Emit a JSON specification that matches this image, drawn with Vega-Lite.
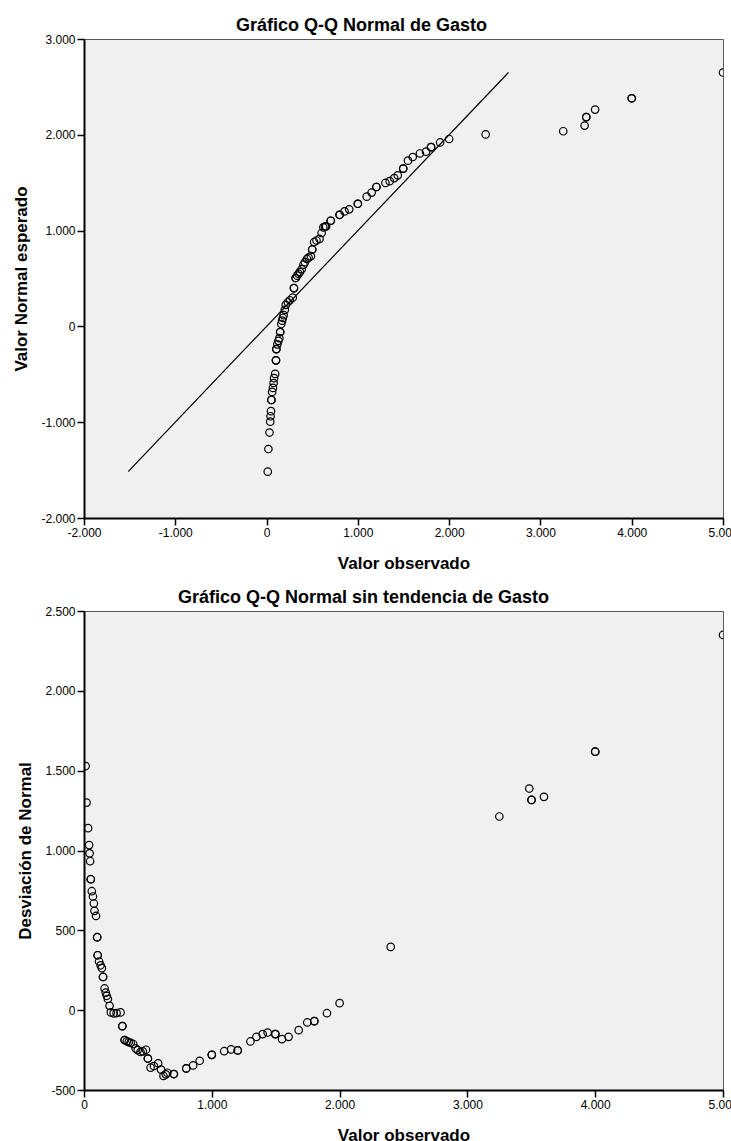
{
  "$schema": "https://vega.github.io/schema/vega-lite/v6.json",
  "padding": {"left": 12, "top": 16, "right": 0, "bottom": 0},
  "spacing": 16,
  "background": "#ffffff",
  "datasets": {
    "pts": [
      {"obs": 13, "esperado": -1516, "desviacion": 1529},
      {"obs": 20, "esperado": -1280, "desviacion": 1300},
      {"obs": 32, "esperado": -1108, "desviacion": 1140},
      {"obs": 40, "esperado": -994, "desviacion": 1034},
      {"obs": 44, "esperado": -938, "desviacion": 982},
      {"obs": 48, "esperado": -885, "desviacion": 933},
      {"obs": 53, "esperado": -767, "desviacion": 820},
      {"obs": 53, "esperado": -767, "desviacion": 820},
      {"obs": 61, "esperado": -684, "desviacion": 745},
      {"obs": 70, "esperado": -642, "desviacion": 712},
      {"obs": 77, "esperado": -591, "desviacion": 668},
      {"obs": 82, "esperado": -540, "desviacion": 622},
      {"obs": 94, "esperado": -496, "desviacion": 590},
      {"obs": 103, "esperado": -354, "desviacion": 457},
      {"obs": 103, "esperado": -354, "desviacion": 457},
      {"obs": 107, "esperado": -237, "desviacion": 344},
      {"obs": 107, "esperado": -237, "desviacion": 344},
      {"obs": 118, "esperado": -187, "desviacion": 305},
      {"obs": 130, "esperado": -151, "desviacion": 281},
      {"obs": 140, "esperado": -123, "desviacion": 263},
      {"obs": 149, "esperado": -59, "desviacion": 208},
      {"obs": 149, "esperado": -59, "desviacion": 208},
      {"obs": 161, "esperado": 25, "desviacion": 136},
      {"obs": 170, "esperado": 60, "desviacion": 110},
      {"obs": 178, "esperado": 88, "desviacion": 90},
      {"obs": 187, "esperado": 117, "desviacion": 70},
      {"obs": 200, "esperado": 173, "desviacion": 27},
      {"obs": 210, "esperado": 224, "desviacion": -14},
      {"obs": 232, "esperado": 252, "desviacion": -20},
      {"obs": 255, "esperado": 273, "desviacion": -18},
      {"obs": 286, "esperado": 300, "desviacion": -14},
      {"obs": 300, "esperado": 400, "desviacion": -100},
      {"obs": 300, "esperado": 400, "desviacion": -100},
      {"obs": 318, "esperado": 505, "desviacion": -187},
      {"obs": 318, "esperado": 505, "desviacion": -187},
      {"obs": 335, "esperado": 530, "desviacion": -195},
      {"obs": 350, "esperado": 550, "desviacion": -200},
      {"obs": 365, "esperado": 569, "desviacion": -204},
      {"obs": 385, "esperado": 597, "desviacion": -212},
      {"obs": 404, "esperado": 644, "desviacion": -240},
      {"obs": 420, "esperado": 670, "desviacion": -250},
      {"obs": 442, "esperado": 704, "desviacion": -262},
      {"obs": 460, "esperado": 718, "desviacion": -258},
      {"obs": 485, "esperado": 733, "desviacion": -248},
      {"obs": 500, "esperado": 803, "desviacion": -303},
      {"obs": 500, "esperado": 803, "desviacion": -303},
      {"obs": 521, "esperado": 881, "desviacion": -360},
      {"obs": 547, "esperado": 897, "desviacion": -350},
      {"obs": 580, "esperado": 913, "desviacion": -333},
      {"obs": 603, "esperado": 975, "desviacion": -372},
      {"obs": 622, "esperado": 1034, "desviacion": -412},
      {"obs": 640, "esperado": 1042, "desviacion": -402},
      {"obs": 652, "esperado": 1044, "desviacion": -392},
      {"obs": 703, "esperado": 1103, "desviacion": -400},
      {"obs": 703, "esperado": 1103, "desviacion": -400},
      {"obs": 800, "esperado": 1165, "desviacion": -365},
      {"obs": 800, "esperado": 1165, "desviacion": -365},
      {"obs": 854, "esperado": 1200, "desviacion": -346},
      {"obs": 905, "esperado": 1222, "desviacion": -317},
      {"obs": 1000, "esperado": 1280, "desviacion": -280},
      {"obs": 1000, "esperado": 1280, "desviacion": -280},
      {"obs": 1097, "esperado": 1354, "desviacion": -257},
      {"obs": 1151, "esperado": 1397, "desviacion": -246},
      {"obs": 1203, "esperado": 1455, "desviacion": -252},
      {"obs": 1203, "esperado": 1455, "desviacion": -252},
      {"obs": 1302, "esperado": 1498, "desviacion": -196},
      {"obs": 1349, "esperado": 1516, "desviacion": -167},
      {"obs": 1398, "esperado": 1548, "desviacion": -150},
      {"obs": 1437, "esperado": 1577, "desviacion": -140},
      {"obs": 1497, "esperado": 1647, "desviacion": -150},
      {"obs": 1497, "esperado": 1647, "desviacion": -150},
      {"obs": 1549, "esperado": 1730, "desviacion": -181},
      {"obs": 1601, "esperado": 1768, "desviacion": -167},
      {"obs": 1680, "esperado": 1805, "desviacion": -125},
      {"obs": 1747, "esperado": 1824, "desviacion": -77},
      {"obs": 1802, "esperado": 1871, "desviacion": -69},
      {"obs": 1802, "esperado": 1871, "desviacion": -69},
      {"obs": 1901, "esperado": 1920, "desviacion": -19},
      {"obs": 2000, "esperado": 1956, "desviacion": 44},
      {"obs": 2400, "esperado": 2004, "desviacion": 396},
      {"obs": 3250, "esperado": 2037, "desviacion": 1213},
      {"obs": 3484, "esperado": 2096, "desviacion": 1388},
      {"obs": 3502, "esperado": 2185, "desviacion": 1317},
      {"obs": 3502, "esperado": 2185, "desviacion": 1317},
      {"obs": 3599, "esperado": 2263, "desviacion": 1336},
      {"obs": 4000, "esperado": 2381, "desviacion": 1619},
      {"obs": 4000, "esperado": 2381, "desviacion": 1619},
      {"obs": 5000, "esperado": 2650, "desviacion": 2350}
    ],
    "ref": [
      {"obs": -1516, "esperado": -1516},
      {"obs": 2650, "esperado": 2650}
    ]
  },
  "vconcat": [
    {
      "width": 639,
      "height": 479,
      "title": {"text": "Gráfico Q-Q Normal de Gasto", "anchor": "middle", "dx": -42, "offset": -2},
      "layer": [
        {
          "data": {"name": "ref"},
          "mark": {"type": "line", "color": "#000000", "strokeWidth": 1.2, "clip": true},
          "encoding": {
            "x": {"field": "obs", "type": "quantitative"},
            "y": {"field": "esperado", "type": "quantitative"}
          }
        },
        {
          "data": {"name": "pts"},
          "mark": {"type": "point", "shape": "circle", "filled": false, "color": "#000000", "size": 56, "strokeWidth": 1.2, "opacity": 1, "clip": true},
          "encoding": {
            "x": {
              "field": "obs", "type": "quantitative",
              "scale": {"domain": [-2000, 5000], "nice": false, "zero": false},
              "axis": {"title": "Valor observado", "values": [-2000, -1000, 0, 1000, 2000, 3000, 4000, 5000], "titlePadding": 17}
            },
            "y": {
              "field": "esperado", "type": "quantitative",
              "scale": {"domain": [-2000, 3000], "nice": false, "zero": false},
              "axis": {"title": "Valor Normal esperado", "values": [-2000, -1000, 0, 1000, 2000, 3000], "titlePadding": 10}
            }
          }
        }
      ]
    },
    {
      "width": 639,
      "height": 479,
      "title": {"text": "Gráfico Q-Q Normal sin tendencia de Gasto", "anchor": "middle", "dx": -40, "offset": -2},
      "layer": [
        {
          "mark": {"type": "rule", "color": "#000000", "strokeWidth": 1.5},
          "encoding": {"y": {"datum": 0, "type": "quantitative"}}
        },
        {
          "data": {"name": "pts"},
          "mark": {"type": "point", "shape": "circle", "filled": false, "color": "#000000", "size": 56, "strokeWidth": 1.2, "opacity": 1, "clip": true},
          "encoding": {
            "x": {
              "field": "obs", "type": "quantitative",
              "scale": {"domain": [0, 5000], "nice": false, "zero": false},
              "axis": {"title": "Valor observado", "values": [0, 1000, 2000, 3000, 4000, 5000], "titlePadding": 17}
            },
            "y": {
              "field": "desviacion", "type": "quantitative",
              "scale": {"domain": [-500, 2500], "nice": false, "zero": false},
              "axis": {"title": "Desviación de Normal", "values": [-500, 0, 500, 1000, 1500, 2000, 2500], "titlePadding": 10}
            }
          }
        }
      ]
    }
  ],
  "config": {
    "font": "Liberation Sans",
    "view": {"fill": "#F0F0F0", "stroke": "#5a5a5a", "strokeWidth": 1},
    "axis": {
      "grid": false,
      "domainColor": "#000000",
      "domainWidth": 2,
      "tickColor": "#000000",
      "tickWidth": 1.5,
      "tickSize": 7,
      "labelFont": "Liberation Sans",
      "labelFontSize": 12,
      "labelColor": "#000000",
      "labelPadding": 2,
      "labelFlush": false,
      "labelOverlap": false,
      "labelExpr": "(datum.value < 0 ? '-' : '') + replace(format(abs(datum.value), ','), ',', '.')",
      "titleFont": "Liberation Sans",
      "titleFontSize": 17,
      "titleFontWeight": "bold",
      "titleColor": "#000000"
    },
    "title": {"font": "Liberation Sans", "fontSize": 18, "fontWeight": "bold", "color": "#000000"}
  }
}
